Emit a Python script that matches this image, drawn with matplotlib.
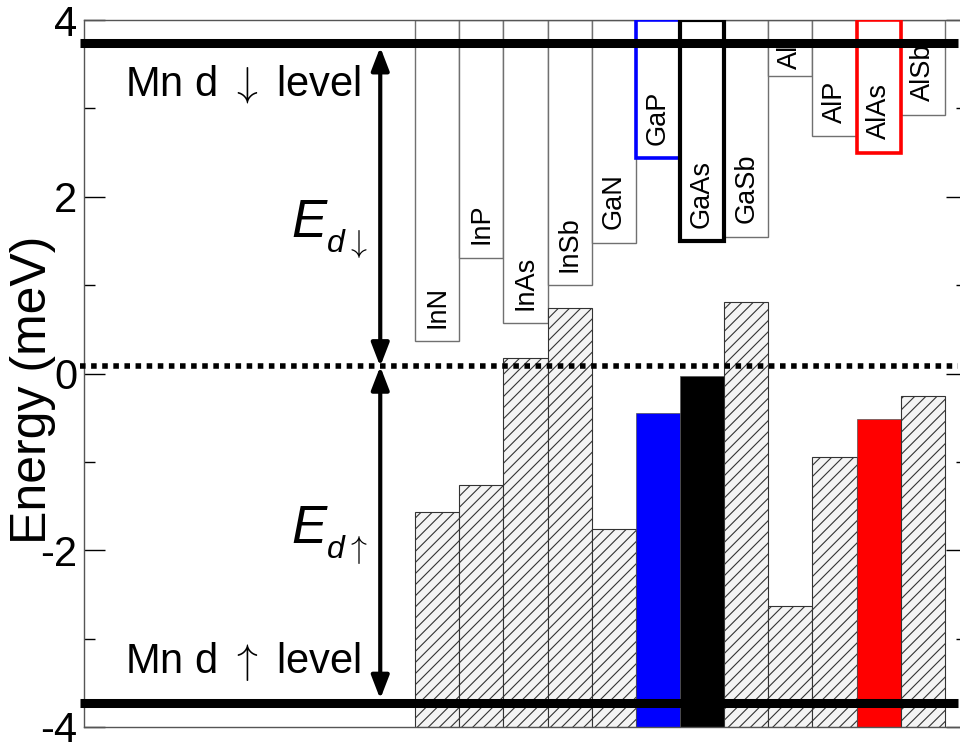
import numpy as np
import matplotlib.pyplot as plt
from matplotlib.transforms import Bbox, TransformedBbox

plt.rcParams['font.family'] = ['Liberation Sans', 'DejaVu Sans']
plt.rcParams['axes.unicode_minus'] = False
plt.rcParams['hatch.linewidth'] = 0.8
plt.rcParams['mathtext.fontset'] = 'cm'   # thin arrows like the original

# values
compounds = ['InN', 'InP', 'InAs', 'InSb', 'GaN', 'GaP', 'GaAs', 'GaSb', 'AlN', 'AlP', 'AlAs', 'AlSb']
upper = [0.37, 1.31, 0.57, 1.00, 1.48, 2.44, 1.50, 1.55, 3.37, 2.69, 2.50, 2.93]
lower = [-1.57, -1.26, 0.18, 0.74, -1.76, -0.45, -0.03, 0.81, -2.63, -0.94, -0.51, -0.26]
highlight = {'GaP': 'blue', 'GaAs': 'black', 'AlAs': 'red'}
mn_down = 3.74
mn_up = -3.73
e_ref = 0.08
yticks = [-4, -2, 0, 2, 4]
yminor = [-3, -1, 1, 3]

ymin, ymax = -4, 4
xs = np.arange(len(compounds)) + 8

fig = plt.figure(figsize=(9.6, 7.47), dpi=100)
ax = fig.add_axes([84 / 960, 20 / 747, 883 / 960, 707 / 747])
ax.set_xlim(0, 20)
ax.set_ylim(ymin, ymax)

# labels hidden above the Mn d-down line
label_clip = TransformedBbox(Bbox([[0, ymin], [20, mn_down]]), ax.transData)

for x, name, top, bot in zip(xs, compounds, upper, lower):
    c = highlight.get(name)
    # box hanging from the top of the frame
    if c:
        ax.bar(x, ymax - top, bottom=top, width=1, facecolor='white',
               edgecolor=c, lw=2.6 if c != 'black' else 3.0, zorder=3)
        ax.bar(x, bot - ymin, bottom=ymin, width=1, facecolor=c,
               edgecolor='#555555', lw=0.5, zorder=2)
    else:
        ax.bar(x, ymax - top, bottom=top, width=1, facecolor='white',
               edgecolor='#707070', lw=1.0, zorder=2)
        ax.bar(x, bot - ymin, bottom=ymin, width=1, facecolor='#f4f4f4',
               edgecolor='#333333', hatch='///', lw=0.8, zorder=2)
    t = ax.text(x, min(top + 0.15, 3.45), name, rotation=90, ha='center', va='bottom',
                fontsize=19.5, zorder=4)
    t.set_clip_box(label_clip)
    t.set_clip_on(True)

# Mn levels and reference
for lev in [mn_down, mn_up]:
    ax.plot([-0.1, 19.8], [lev, lev], color='k', lw=6.5, solid_capstyle='butt',
            clip_on=False, zorder=10)
ax.plot([-0.1, 19.8], [e_ref, e_ref], color='k', lw=4, linestyle=(0, (1, 1)),
        clip_on=False, zorder=10)

xa = 6.71
astyle = dict(arrowstyle='<|-|>,head_length=0.7,head_width=0.27', mutation_scale=20,
              lw=3, color='k', shrinkA=0, shrinkB=3)
ax.annotate('', xy=(xa, mn_down), xytext=(xa, e_ref), arrowprops=astyle, zorder=11)
ax.annotate('', xy=(xa, mn_up), xytext=(xa, e_ref), arrowprops=astyle, zorder=11)

ax.text(0.93, 3.15, r'Mn d $\downarrow$ level', fontsize=30, ha='left', va='baseline')
ax.text(0.93, -3.39, r'Mn d $\uparrow$ level', fontsize=30, ha='left', va='baseline')

ax.text(4.70, 1.545, 'E', style='italic', fontsize=38, ha='left', va='baseline')
ax.text(5.51, 1.376, 'd', style='italic', fontsize=23, ha='left', va='baseline')
ax.text(5.92, 1.376, r'$\downarrow$', fontsize=23, ha='left', va='baseline')
ax.text(4.70, -1.916, 'E', style='italic', fontsize=38, ha='left', va='baseline')
ax.text(5.51, -2.086, 'd', style='italic', fontsize=23, ha='left', va='baseline')
ax.text(5.92, -2.086, r'$\uparrow$', fontsize=23, ha='left', va='baseline')

ax.text(-0.058, 0.477, 'Energy (meV)', rotation=90, ha='center', va='center',
        fontsize=36, transform=ax.transAxes)

ax.set_xticks([])
ax.set_yticks(yticks)
ax.set_yticks(yminor, minor=True)
ax.set_yticklabels([str(t) for t in yticks])
ax.tick_params(axis='y', which='major', direction='in', length=15, width=1,
               right=True, labelsize=30, pad=5)
ax.tick_params(axis='y', which='minor', direction='in', length=8, width=1, right=True)
for s in ax.spines.values():
    s.set_color('#555555')
    s.set_linewidth(1)

fig.savefig('out.png', dpi=100)
